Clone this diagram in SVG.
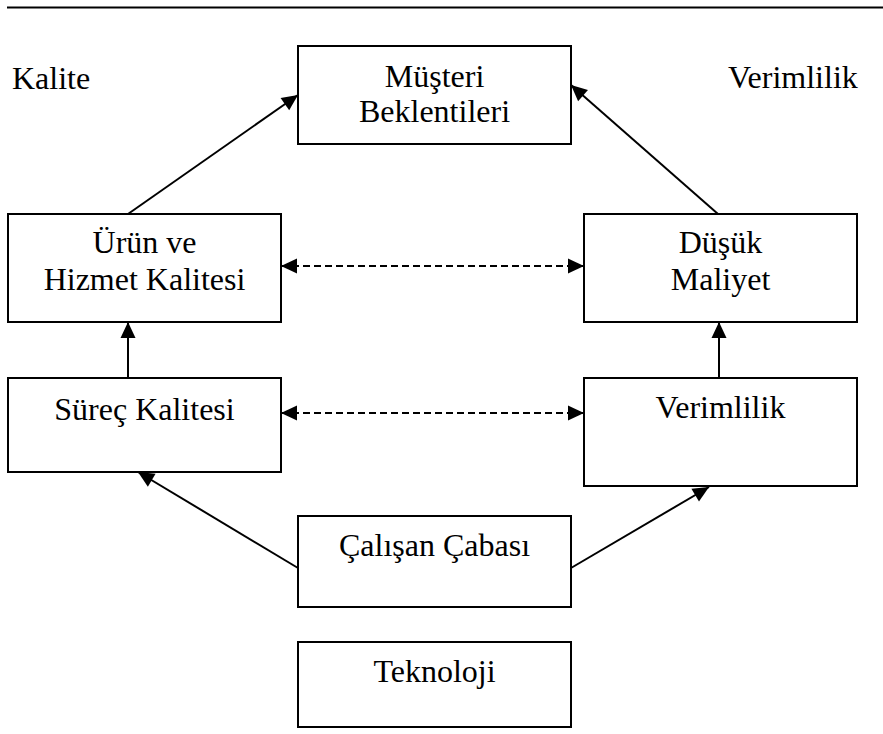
<svg xmlns="http://www.w3.org/2000/svg" width="883" height="734" viewBox="0 0 883 734">
  <style>
    .box { fill: #ffffff; stroke: #000000; stroke-width: 2; }
    text { font-family: 'Liberation Serif', 'Times New Roman', serif; font-size: 32px; fill: #000000; }
    .lbl { text-anchor: middle; }
    .solid { stroke: #000000; stroke-width: 2; fill: none; }
    .dash { stroke: #000000; stroke-width: 2; fill: none; stroke-dasharray: 7 4; }
  </style>
  <defs>
    <marker id="arrow" markerUnits="userSpaceOnUse" markerWidth="16" markerHeight="15" refX="16" refY="7.5" orient="auto-start-reverse" overflow="visible">
      <path d="M0,0 L16,7.5 L0,15 Z" fill="#000000"/>
    </marker>
  </defs>

  <rect width="883" height="734" fill="#ffffff"/>

  <!-- header rule -->
  <line x1="7" y1="7.5" x2="883" y2="7.5" stroke="#000000" stroke-width="2"/>

  <!-- side headings -->
  <text x="12" y="89">Kalite</text>
  <text x="728" y="88">Verimlilik</text>

  <!-- connectors -->
  <g id="connectors">
    <line class="solid" x1="128" y1="214" x2="298" y2="95" marker-end="url(#arrow)"/>
    <line class="solid" x1="718" y1="214" x2="571" y2="85" marker-end="url(#arrow)"/>
    <line class="solid" x1="128" y1="378" x2="128" y2="322" marker-end="url(#arrow)"/>
    <line class="solid" x1="719" y1="378" x2="719" y2="322" marker-end="url(#arrow)"/>
    <line class="dash" x1="281" y1="266" x2="584" y2="266" marker-start="url(#arrow)" marker-end="url(#arrow)"/>
    <line class="dash" x1="281" y1="413" x2="584" y2="413" marker-start="url(#arrow)" marker-end="url(#arrow)"/>
    <line class="solid" x1="298" y1="568" x2="138" y2="472" marker-end="url(#arrow)"/>
    <line class="solid" x1="571" y1="568" x2="709" y2="487" marker-end="url(#arrow)"/>
  </g>

  <!-- nodes -->
  <g id="musteri-beklentileri">
    <rect class="box" x="298" y="46" width="273" height="98"/>
    <text class="lbl" x="434.5" y="87">Müşteri</text>
    <text class="lbl" x="434.5" y="122">Beklentileri</text>
  </g>
  <g id="urun-hizmet-kalitesi">
    <rect class="box" x="8" y="214" width="273" height="108"/>
    <text class="lbl" x="144.5" y="253">Ürün ve</text>
    <text class="lbl" x="144.5" y="290">Hizmet Kalitesi</text>
  </g>
  <g id="dusuk-maliyet">
    <rect class="box" x="584" y="214" width="273" height="108"/>
    <text class="lbl" x="720.5" y="253">Düşük</text>
    <text class="lbl" x="720.5" y="290">Maliyet</text>
  </g>
  <g id="surec-kalitesi">
    <rect class="box" x="8" y="378" width="273" height="94"/>
    <text class="lbl" x="144.5" y="420">Süreç Kalitesi</text>
  </g>
  <g id="verimlilik">
    <rect class="box" x="584" y="378" width="273" height="108"/>
    <text class="lbl" x="720.5" y="418">Verimlilik</text>
  </g>
  <g id="calisan-cabasi">
    <rect class="box" x="298" y="516" width="273" height="91"/>
    <text class="lbl" x="434.5" y="556">Çalışan Çabası</text>
  </g>
  <g id="teknoloji">
    <rect class="box" x="298" y="642" width="273" height="85"/>
    <text class="lbl" x="434.5" y="682">Teknoloji</text>
  </g>
</svg>
